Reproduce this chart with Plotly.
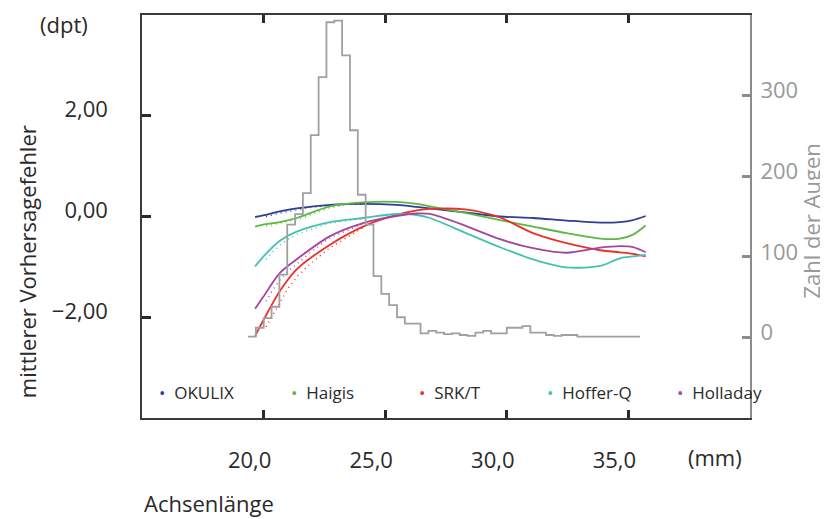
import numpy as np
import plotly.graph_objects as go

# ---------------- data ----------------
# axial length (mm) for the fitted curves
axial_fit = [19.65, 19.98, 20.67, 21.36, 22.73, 24.09, 25.47, 26.30, 26.84,
             28.28, 29.72, 31.08, 32.46, 33.84, 34.65, 35.19, 35.71]
okulix   = [-0.01, 0.02, 0.10, 0.16, 0.23, 0.25, 0.23, 0.19, 0.16,
            0.08, 0.00, -0.03, -0.08, -0.12, -0.11, -0.07, 0.01]
haigis   = [-0.20, -0.16, -0.11, -0.03, 0.20, 0.28, 0.29, 0.25, 0.20,
            0.07, -0.07, -0.20, -0.33, -0.44, -0.44, -0.36, -0.18]
srkt     = [-2.37, -2.07, -1.48, -1.05, -0.56, -0.20, 0.03, 0.12, 0.15,
            0.14, -0.02, -0.33, -0.53, -0.67, -0.71, -0.74, -0.79]
hofferq  = [-0.99, -0.80, -0.48, -0.30, -0.11, -0.03, 0.05, 0.03, -0.03,
            -0.32, -0.61, -0.85, -1.01, -0.98, -0.83, -0.79, -0.76]
holladay = [-1.83, -1.60, -1.12, -0.85, -0.39, -0.13, 0.01, 0.06, 0.05,
            -0.18, -0.45, -0.63, -0.72, -0.62, -0.59, -0.61, -0.71]

# dotted (raw) series near the short-eye end
axial_raw    = [20.1, 20.4, 20.7, 21.0, 21.4, 21.9, 22.7, 23.5, 24.1]
okulix_raw   = [0.00, 0.04, 0.07, 0.10, 0.13, 0.18, 0.22, 0.24, 0.24]
haigis_raw   = [-0.19, -0.16, -0.14, -0.11, -0.06, 0.03, 0.17, 0.24, 0.28]
srkt_raw     = [-2.19, -1.93, -1.68, -1.43, -1.18, -0.95, -0.63, -0.40, -0.22]
hofferq_raw  = [-0.85, -0.69, -0.56, -0.45, -0.35, -0.26, -0.13, -0.08, -0.04]
holladay_raw = [-1.68, -1.44, -1.24, -1.08, -0.93, -0.72, -0.43, -0.27, -0.14]

series_names = ["OKULIX", "Haigis", "SRK/T", "Hoffer-Q", "Holladay"]

# histogram: number of eyes per axial-length bin
hist_start = 19.36
hist_bin = 0.3224
hist_counts = [1, 12, 24, 38, 78, 140, 153, 179, 251, 323, 391, 393, 350, 257,
               177, 140, 76, 54, 40, 25, 17, 17, 5, 8, 6, 4, 5, 3, 2, 6, 8, 5,
               5, 12, 12, 14, 6, 6, 3, 2, 3, 3, 1, 1, 1, 1, 1, 1, 1, 1]

x_tickvals = [20, 25, 30, 35]
x_ticktext = ["20,0", "25,0", "30,0", "35,0"]
y_tickvals = [-2, 0, 2]
y_ticktext = ["\u22122,00", "0,00", "2,00"]
y2_tickvals = [0, 100, 200, 300]
y2_ticktext = ["0", "100", "200", "300"]

# ---------------- style ----------------
colors = ["#2f3f98", "#5cb744", "#e8312a", "#43c1b1", "#a2479f"]
FONT = "Open Sans"
TXT = "#2a2a2a"
GRAY = "#999999"

fig = go.Figure()

edges = hist_start + hist_bin * np.arange(len(hist_counts) + 1)
fig.add_trace(go.Scatter(
    x=edges, y=hist_counts + [hist_counts[-1]], yaxis="y2",
    mode="lines", line=dict(color="#a0a0a0", width=1.8, shape="hv"),
    showlegend=False, hoverinfo="skip"))

fits = [okulix, haigis, srkt, hofferq, holladay]
raws = [okulix_raw, haigis_raw, srkt_raw, hofferq_raw, holladay_raw]
for name, col, fit, raw in zip(series_names, colors, fits, raws):
    fig.add_trace(go.Scatter(
        x=axial_raw, y=raw, mode="lines", name=name + " (Daten)",
        line=dict(color=col, width=1.4, dash="1px,4px"), showlegend=False))
    fig.add_trace(go.Scatter(
        x=axial_fit, y=fit, mode="lines", name=name,
        line=dict(color=col, width=1.8, shape="spline", smoothing=0.8),
        showlegend=False))

# legend drawn as text entries inside the plot
legend_x = [0.0243, 0.2414, 0.4520, 0.6625, 0.8763]
annotations = []
for name, col, lx in zip(series_names, colors, legend_x):
    annotations.append(dict(
        xref="paper", yref="paper", x=lx, y=0.064, xanchor="left", yanchor="middle",
        text=f"<span style='color:{col}'>\u2022</span>\u00a0\u00a0{name}",
        showarrow=False, font=dict(family=FONT, size=17, color=TXT)))

annotations += [
    dict(xref="paper", yref="paper", x=-0.128, y=0.977, text="(dpt)", showarrow=False,
         xanchor="center", yanchor="middle", font=dict(family=FONT, size=22, color=TXT)),
    dict(xref="paper", yref="paper", x=-0.189, y=0.387, text="mittlerer Vorhersagefehler",
         textangle=-90, showarrow=False, xanchor="center", yanchor="middle",
         font=dict(family=FONT, size=22, color=TXT)),
    dict(xref="paper", yref="paper", x=1.101, y=0.4885, text="Zahl der Augen",
         textangle=-90, showarrow=False, xanchor="center", yanchor="middle",
         font=dict(family=FONT, size=22, color=GRAY)),
    dict(xref="paper", yref="paper", x=0.943, y=-0.096, text="(mm)", showarrow=False,
         xanchor="center", yanchor="middle", font=dict(family=FONT, size=22, color=TXT)),
    dict(xref="paper", yref="paper", x=0.0, y=-0.212, text="Achsenlänge", showarrow=False,
         xanchor="left", yanchor="middle", font=dict(family=FONT, size=22, color=TXT)),
]

# the page adds an 8 px body margin, so the figure is 8 px smaller each way
fig.update_layout(
    width=820, height=511, autosize=False,
    margin=dict(l=134, r=78, t=5, b=101, pad=0),
    paper_bgcolor="white", plot_bgcolor="white",
    showlegend=False,
    font=dict(family=FONT, size=22, color=TXT),
    annotations=annotations,
    xaxis=dict(range=[15, 40], tickvals=x_tickvals, ticktext=x_ticktext,
               showgrid=False, zeroline=False, showline=True, linecolor="#3a3a3a",
               linewidth=1.5, mirror="ticks", ticks="inside", ticklen=8, tickwidth=2.5,
               tickcolor="#2a2a2a", tickfont=dict(family=FONT, size=22, color=TXT),
               ticklabelstandoff=22, ticklabelshift=-14),
    yaxis=dict(range=[-4, 4], tickvals=y_tickvals, ticktext=y_ticktext,
               showgrid=False, zeroline=False, showline=True, linecolor="#3a3a3a",
               linewidth=1.5, ticks="inside", ticklen=9, tickwidth=2.5,
               tickcolor="#2a2a2a", tickfont=dict(family=FONT, size=22, color=TXT),
               ticklabelstandoff=28, ticklabelshift=-6),
    yaxis2=dict(range=[-100, 400], overlaying="y", side="right",
                tickvals=y2_tickvals, ticktext=y2_ticktext,
                showgrid=False, zeroline=False, showline=True, linecolor="#8c8c8c",
                linewidth=2, ticks="inside", ticklen=8, tickwidth=2.5, tickcolor="#8c8c8c",
                tickfont=dict(family=FONT, size=22, color=GRAY),
                ticklabelstandoff=4, ticklabelshift=-5),
)

fig.write_html("out.html")
